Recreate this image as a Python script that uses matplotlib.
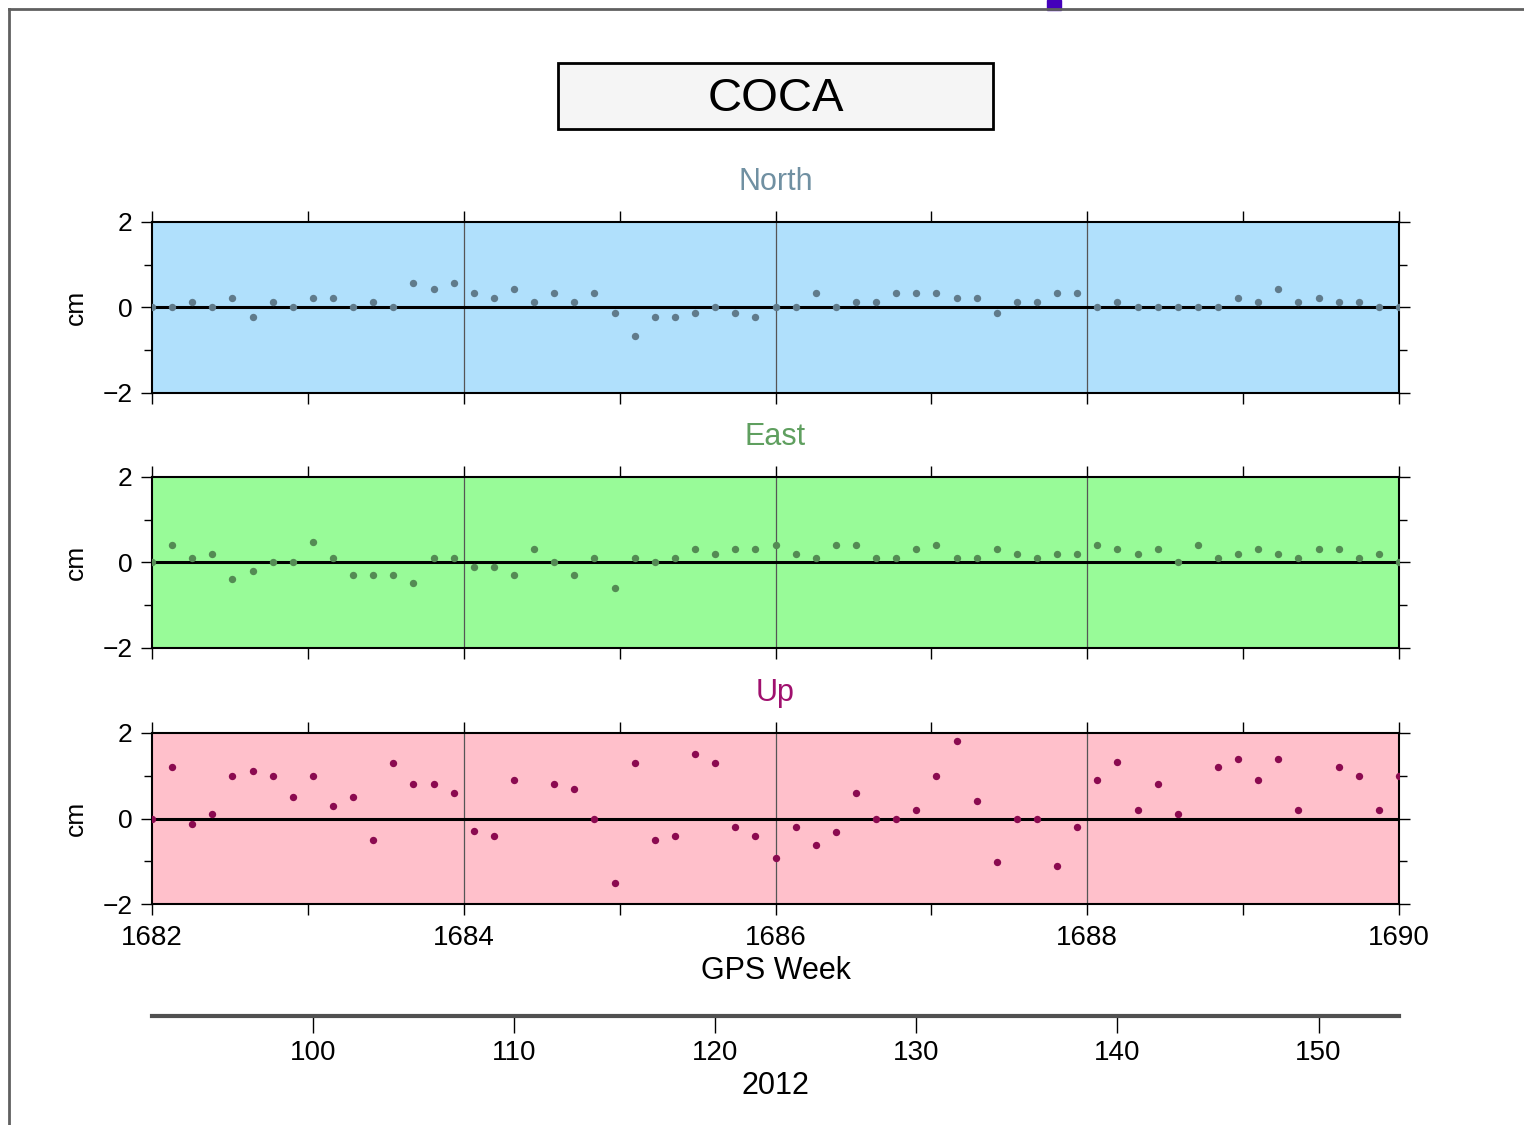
import numpy as np
import matplotlib
matplotlib.use("Agg")
import matplotlib.pyplot as plt
from matplotlib.patches import Rectangle
from matplotlib.lines import Line2D

plt.rcParams['font.family'] = ['Liberation Sans', 'DejaVu Sans']

STATION = "COCA"
YEAR = "2012"

# day of year (2012), one solution per day
days = list(range(92, 155))

north = [0, 0, 0.12, 0, 0.23, -0.22, 0.12, 0, 0.23, 0.23,
         0, 0.12, 0, 0.57, 0.44, 0.57, 0.33, 0.23, 0.44, 0.12,
         0.33, 0.12, 0.33, -0.13, -0.67, -0.22, -0.22, -0.13, 0, -0.13,
         -0.22, 0, 0, 0.33, 0, 0.12, 0.12, 0.33, 0.33, 0.33,
         0.23, 0.23, -0.13, 0.12, 0.12, 0.33, 0.33, 0, 0.12, 0,
         0, 0, 0, 0, 0.23, 0.12, 0.44, 0.12, 0.23, 0.12,
         0.12, 0, 0]

east = [0, 0.4, 0.11, 0.21, -0.38, -0.2, 0, 0, 0.49, 0.11,
        -0.29, -0.29, -0.29, -0.49, 0.11, 0.11, -0.1, -0.1, -0.29, 0.31,
        0, -0.29, 0.11, -0.59, 0.11, 0, 0.11, 0.31, 0.21, 0.31,
        0.31, 0.4, 0.21, 0.11, 0.4, 0.4, 0.11, 0.11, 0.31, 0.4,
        0.11, 0.11, 0.31, 0.21, 0.11, 0.21, 0.21, 0.4, 0.31, 0.21,
        0.31, 0, 0.4, 0.11, 0.21, 0.31, 0.21, 0.11, 0.31, 0.31,
        0.11, 0.21, 0]

nan = np.nan
up = [0, 1.2, -0.12, 0.1, 1.0, 1.1, 1.0, 0.5, 1.0, 0.3,
      0.5, -0.5, 1.3, 0.8, 0.8, 0.6, -0.3, -0.4, 0.9, nan,
      0.8, 0.7, 0.0, -1.5, 1.3, -0.5, -0.4, 1.5, 1.3, -0.2,
      -0.4, -0.92, -0.21, -0.62, -0.31, 0.6, 0, 0, 0.2, 1.0,
      1.82, 0.4, -1.02, 0, 0, -1.12, -0.21, 0.9, 1.31, 0.2,
      0.8, 0.1, nan, 1.2, 1.4, 0.9, 1.4, 0.2, nan, 1.2,
      1.0, 0.2, 1.0]

gps_weeks = list(range(1682, 1691))
doy_ticks = [100, 110, 120, 130, 140, 150]

# x range of the plot, and where the GPS weeks fall on it
x_start, x_end = 92, 154
week_start, week_end = 1682, 1690


def week_to_x(w):
    return x_start + (w - week_start) * (x_end - x_start) / (week_end - week_start)


panels = [
    ("North", north, "#b0e0fc", "#607b8b", "#7090a2", 222),
    ("East", east, "#98fb98", "#548b54", "#5f9f5f", 477),
    ("Up", up, "#ffc0cb", "#8b0a50", "#a0106e", 733),
]

W, H = 1524, 1125
fig = plt.figure(figsize=(W / 100, H / 100), dpi=100)

# page frame lines
fig.add_artist(Line2D([9 / W, 1], [1 - 9 / H, 1 - 9 / H], color="#606060", lw=2))
fig.add_artist(Line2D([9 / W, 9 / W], [0, 1 - 9 / H], color="#606060", lw=2))
fig.add_artist(Rectangle((1047 / W, 1 - 10 / H), 14 / W, 10 / H, color="#4400bb"))

# station box
fig.add_artist(Rectangle((558 / W, 1 - 129 / H), 435 / W, 66 / H,
                         facecolor="#f5f5f5", edgecolor="black", lw=2))
fig.text(775.5 / W, 1 - 99 / H, STATION, ha="center", va="center", fontsize=34)

left = 152 / W
width = 1247 / W
ph = 171 / H
axes = []
for name, vals, bg, pc, tc, top in panels:
    ax = fig.add_axes([left, 1 - (top + 171) / H, width, ph])
    ax.set_facecolor(bg)
    ax.set_xlim(x_start, x_end)
    ax.set_ylim(-2, 2)
    major_weeks = [w for w in gps_weeks if w % 2 == 0]
    minor_weeks = [w for w in gps_weeks if w % 2 == 1]
    ax.set_xticks([week_to_x(w) for w in major_weeks])
    ax.set_xticks([week_to_x(w) for w in minor_weeks], minor=True)
    ax.set_yticks([-2, 0, 2])
    ax.set_yticklabels(["\u22122", "0", "2"])
    ax.set_yticks([-1, 1], minor=True)
    for w in major_weeks[1:-1]:
        ax.axvline(week_to_x(w), color="#555555", lw=0.9, zorder=1)
    ax.axhline(0, color="black", lw=2.2, zorder=2)
    ax.plot(days, vals, "o", color=pc, ms=5.3, mec="none", zorder=3)
    ax.tick_params(axis="both", which="both", direction="out", length=8, width=1,
                   top=True, right=True, labelsize=19, pad=6)
    ax.tick_params(axis="y", which="minor", length=6)
    ax.tick_params(axis="x", labelbottom=False)
    for s in ax.spines.values():
        s.set_linewidth(1.5)
    ax.set_ylabel("cm", fontsize=19)
    ax.yaxis.set_label_coords(-64 / 1247, 0.5)
    ax.text(0.5, 1 + 40 / 171, name, transform=ax.transAxes, ha="center",
            va="center", fontsize=22, color=tc)
    axes.append(ax)

ax_up = axes[-1]
ax_up.tick_params(axis="x", labelbottom=True, labelsize=20, pad=7)
ax_up.set_xticklabels([str(w) for w in gps_weeks if w % 2 == 0])
ax_up.set_xlabel("GPS Week", fontsize=22, labelpad=4)

# day-of-year axis below
ax_doy = fig.add_axes([left, 1 - 1016 / H, width, 0.001])
ax_doy.set_xlim(x_start, x_end)
ax_doy.set_facecolor("none")
for k in ["top", "left", "right"]:
    ax_doy.spines[k].set_visible(False)
ax_doy.spines["bottom"].set_linewidth(3)
ax_doy.spines["bottom"].set_color("#505050")
ax_doy.set_yticks([])
ax_doy.set_xticks(doy_ticks)
ax_doy.tick_params(axis="x", direction="out", length=12, width=1, labelsize=20, pad=5)
ax_doy.set_xlabel(YEAR, fontsize=22, labelpad=4)

fig.savefig("out.png", dpi=100)
